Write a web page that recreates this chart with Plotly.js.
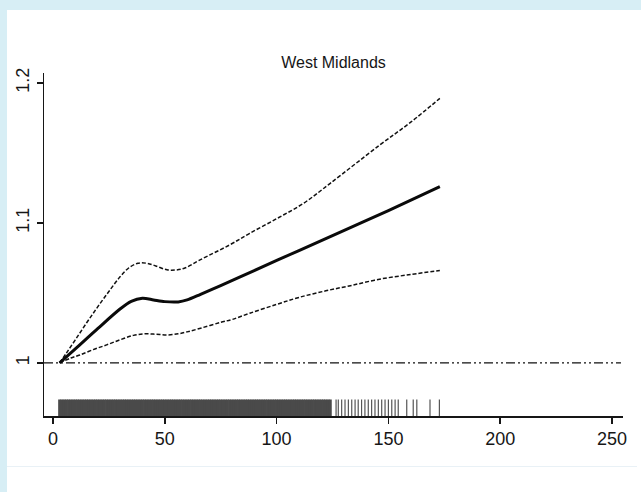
<!DOCTYPE html>
<html>
<head>
<meta charset="utf-8">
<script src="https://cdn.plot.ly/plotly-3.0.1.min.js"></script>
<style>
  html, body { margin: 0; padding: 0; }
  body { width: 641px; height: 492px; background: #d7eef5; position: relative; overflow: hidden; }
  #sheet { position: absolute; left: 7px; top: 10px; width: 634px; height: 482px; background: #ffffff; }
  #chart { position: absolute; left: 0; top: 0; width: 634px; height: 482px; }
  #rule { position: absolute; left: 0; top: 456px; width: 630px; height: 1px; background: #e9f1f6; }
</style>
</head>
<body>
<div id="sheet">
  <div id="chart"></div>
  <div id="rule"></div>
</div>
<script>
// Estimated rate ratio curve with pointwise confidence band
const fitX = [3, 10, 20, 30, 35, 40, 45, 50, 56, 60, 66, 75, 90, 110, 130, 150, 173];
const fitY = [1.000, 1.0100, 1.0245, 1.0385, 1.0440, 1.0462, 1.0450, 1.0438, 1.0436, 1.0450, 1.0490, 1.0552, 1.0660, 1.0803, 1.0945, 1.1088, 1.1259];

const upperX = [3, 6, 10, 15, 20, 25, 30, 34, 38, 42, 46, 51, 55, 59, 66, 79, 88, 100, 112, 124, 146, 160, 173];
const upperY = [1.000, 1.007, 1.0165, 1.0285, 1.040, 1.051, 1.0615, 1.068, 1.0712, 1.0712, 1.0693, 1.0665, 1.0664, 1.0678, 1.0738, 1.0843, 1.0926, 1.1030, 1.1140, 1.1283, 1.1555, 1.172, 1.189];

const lowerX = [3, 8, 12, 18, 24, 30, 36, 41, 46, 51, 56, 60, 66, 75, 80, 88, 100, 110, 122, 133, 146, 160, 173];
const lowerY = [1.000, 1.0035, 1.0057, 1.0095, 1.0129, 1.0165, 1.0197, 1.0208, 1.0205, 1.0200, 1.0208, 1.0222, 1.0248, 1.0290, 1.0310, 1.0355, 1.0418, 1.0468, 1.0515, 1.0552, 1.0598, 1.0632, 1.066];

// Reference level (ratio = 1)
const refLevel = 1;

// Observed exposure values shown as a rug along the bottom
const rugDense = [3, 4, 5, 6, 7, 8, 9, 10, 11, 12, 13, 14, 15, 16, 17, 18, 19, 20, 21, 22, 23, 24, 25, 26, 27, 28, 29, 30,
  31, 32, 33, 34, 35, 36, 37, 38, 39, 40, 41, 42, 43, 44, 45, 46, 47, 48, 49, 50, 51, 52, 53, 54, 55, 56, 57, 58, 59, 60,
  61, 62, 63, 64, 65, 66, 67, 68, 69, 70, 71, 72, 73, 74, 75, 76, 77, 78, 79, 80, 81, 82, 83, 84, 85, 86, 87, 88, 89, 90,
  91, 92, 93, 94, 95, 96, 97, 98, 99, 100, 101, 102, 103, 104, 105, 106, 107, 108, 109, 110, 111, 112, 113, 114, 115,
  116, 117, 118, 119, 120, 121, 122, 123, 124];
const rugSparse = [126.6, 127.6, 129.1, 130.6, 132.1, 133.6, 135.1, 136.5, 138.0, 139.5, 141.0, 142.5, 144.0, 145.5,
  147.0, 148.5, 150.0, 151.5, 153.0, 154.4, 158.2, 161.1, 162.7, 168.6, 172.8];
const rugLevel = 0.9679;

const xTicks = [0, 50, 100, 150, 200, 250];
const yTicks = [1, 1.1, 1.2];
const yTickText = ['1', '1.1', '1.2'];

const FONT = 'Liberation Sans, Arial, sans-serif';
const INK = '#161616';

const traces = [
  {
    x: rugDense, y: rugDense.map(() => rugLevel), mode: 'markers', hoverinfo: 'skip',
    marker: { symbol: 'line-ns', size: 12, color: '#4a4a4a', line: { color: '#4a4a4a', width: 3 } }
  },
  {
    x: rugSparse, y: rugSparse.map(() => rugLevel), mode: 'markers', hoverinfo: 'skip',
    marker: { symbol: 'line-ns', size: 12, color: '#555', line: { color: '#555', width: 1.2 } }
  },
  {
    x: upperX, y: upperY, mode: 'lines',
    line: { color: '#111', width: 1.5, dash: '4px,2px', shape: 'spline', smoothing: 1 }
  },
  {
    x: lowerX, y: lowerY, mode: 'lines',
    line: { color: '#111', width: 1.5, dash: '4px,2px', shape: 'spline', smoothing: 1 }
  },
  {
    x: fitX, y: fitY, mode: 'lines',
    line: { color: '#0a0a0a', width: 3, shape: 'spline', smoothing: 0.8 }
  }
];

const layout = {
  width: 634, height: 482,
  margin: { l: 37, r: 18, t: 63, b: 76 },
  paper_bgcolor: '#ffffff', plot_bgcolor: '#ffffff',
  showlegend: false,
  font: { family: FONT, color: INK },
  title: {
    text: 'West Midlands',
    font: { family: FONT, size: 16, color: INK },
    x: 0.5, xref: 'paper', xanchor: 'center',
    y: 0.892, yref: 'container', yanchor: 'middle'
  },
  shapes: [
    {
      // dash-dot-dot line marking the reference ratio
      type: 'line', xref: 'paper', yref: 'y', x0: 0, x1: 0.9965, y0: refLevel, y1: refLevel,
      layer: 'below', line: { color: '#111', width: 1.2, dash: '9px,3px,2px,3px,2px,3px' }
    }
  ],
  xaxis: {
    range: [-4, 254.9], tickvals: xTicks, ticks: 'outside', ticklen: 6, tickwidth: 1.5, tickcolor: INK,
    showline: true, linewidth: 1.5, linecolor: INK, showgrid: false, zeroline: false,
    tickfont: { family: FONT, size: 18, color: INK }
  },
  yaxis: {
    range: [0.9621, 1.2071], tickvals: yTicks, ticktext: yTickText, tickangle: -90,
    ticks: 'outside', ticklen: 6, tickwidth: 1.5, tickcolor: INK,
    showline: true, linewidth: 1.5, linecolor: INK, showgrid: false, zeroline: false,
    tickfont: { family: FONT, size: 18, color: INK }
  }
};

Plotly.newPlot('chart', traces, layout, { displayModeBar: false, staticPlot: true });
</script>
</body>
</html>
